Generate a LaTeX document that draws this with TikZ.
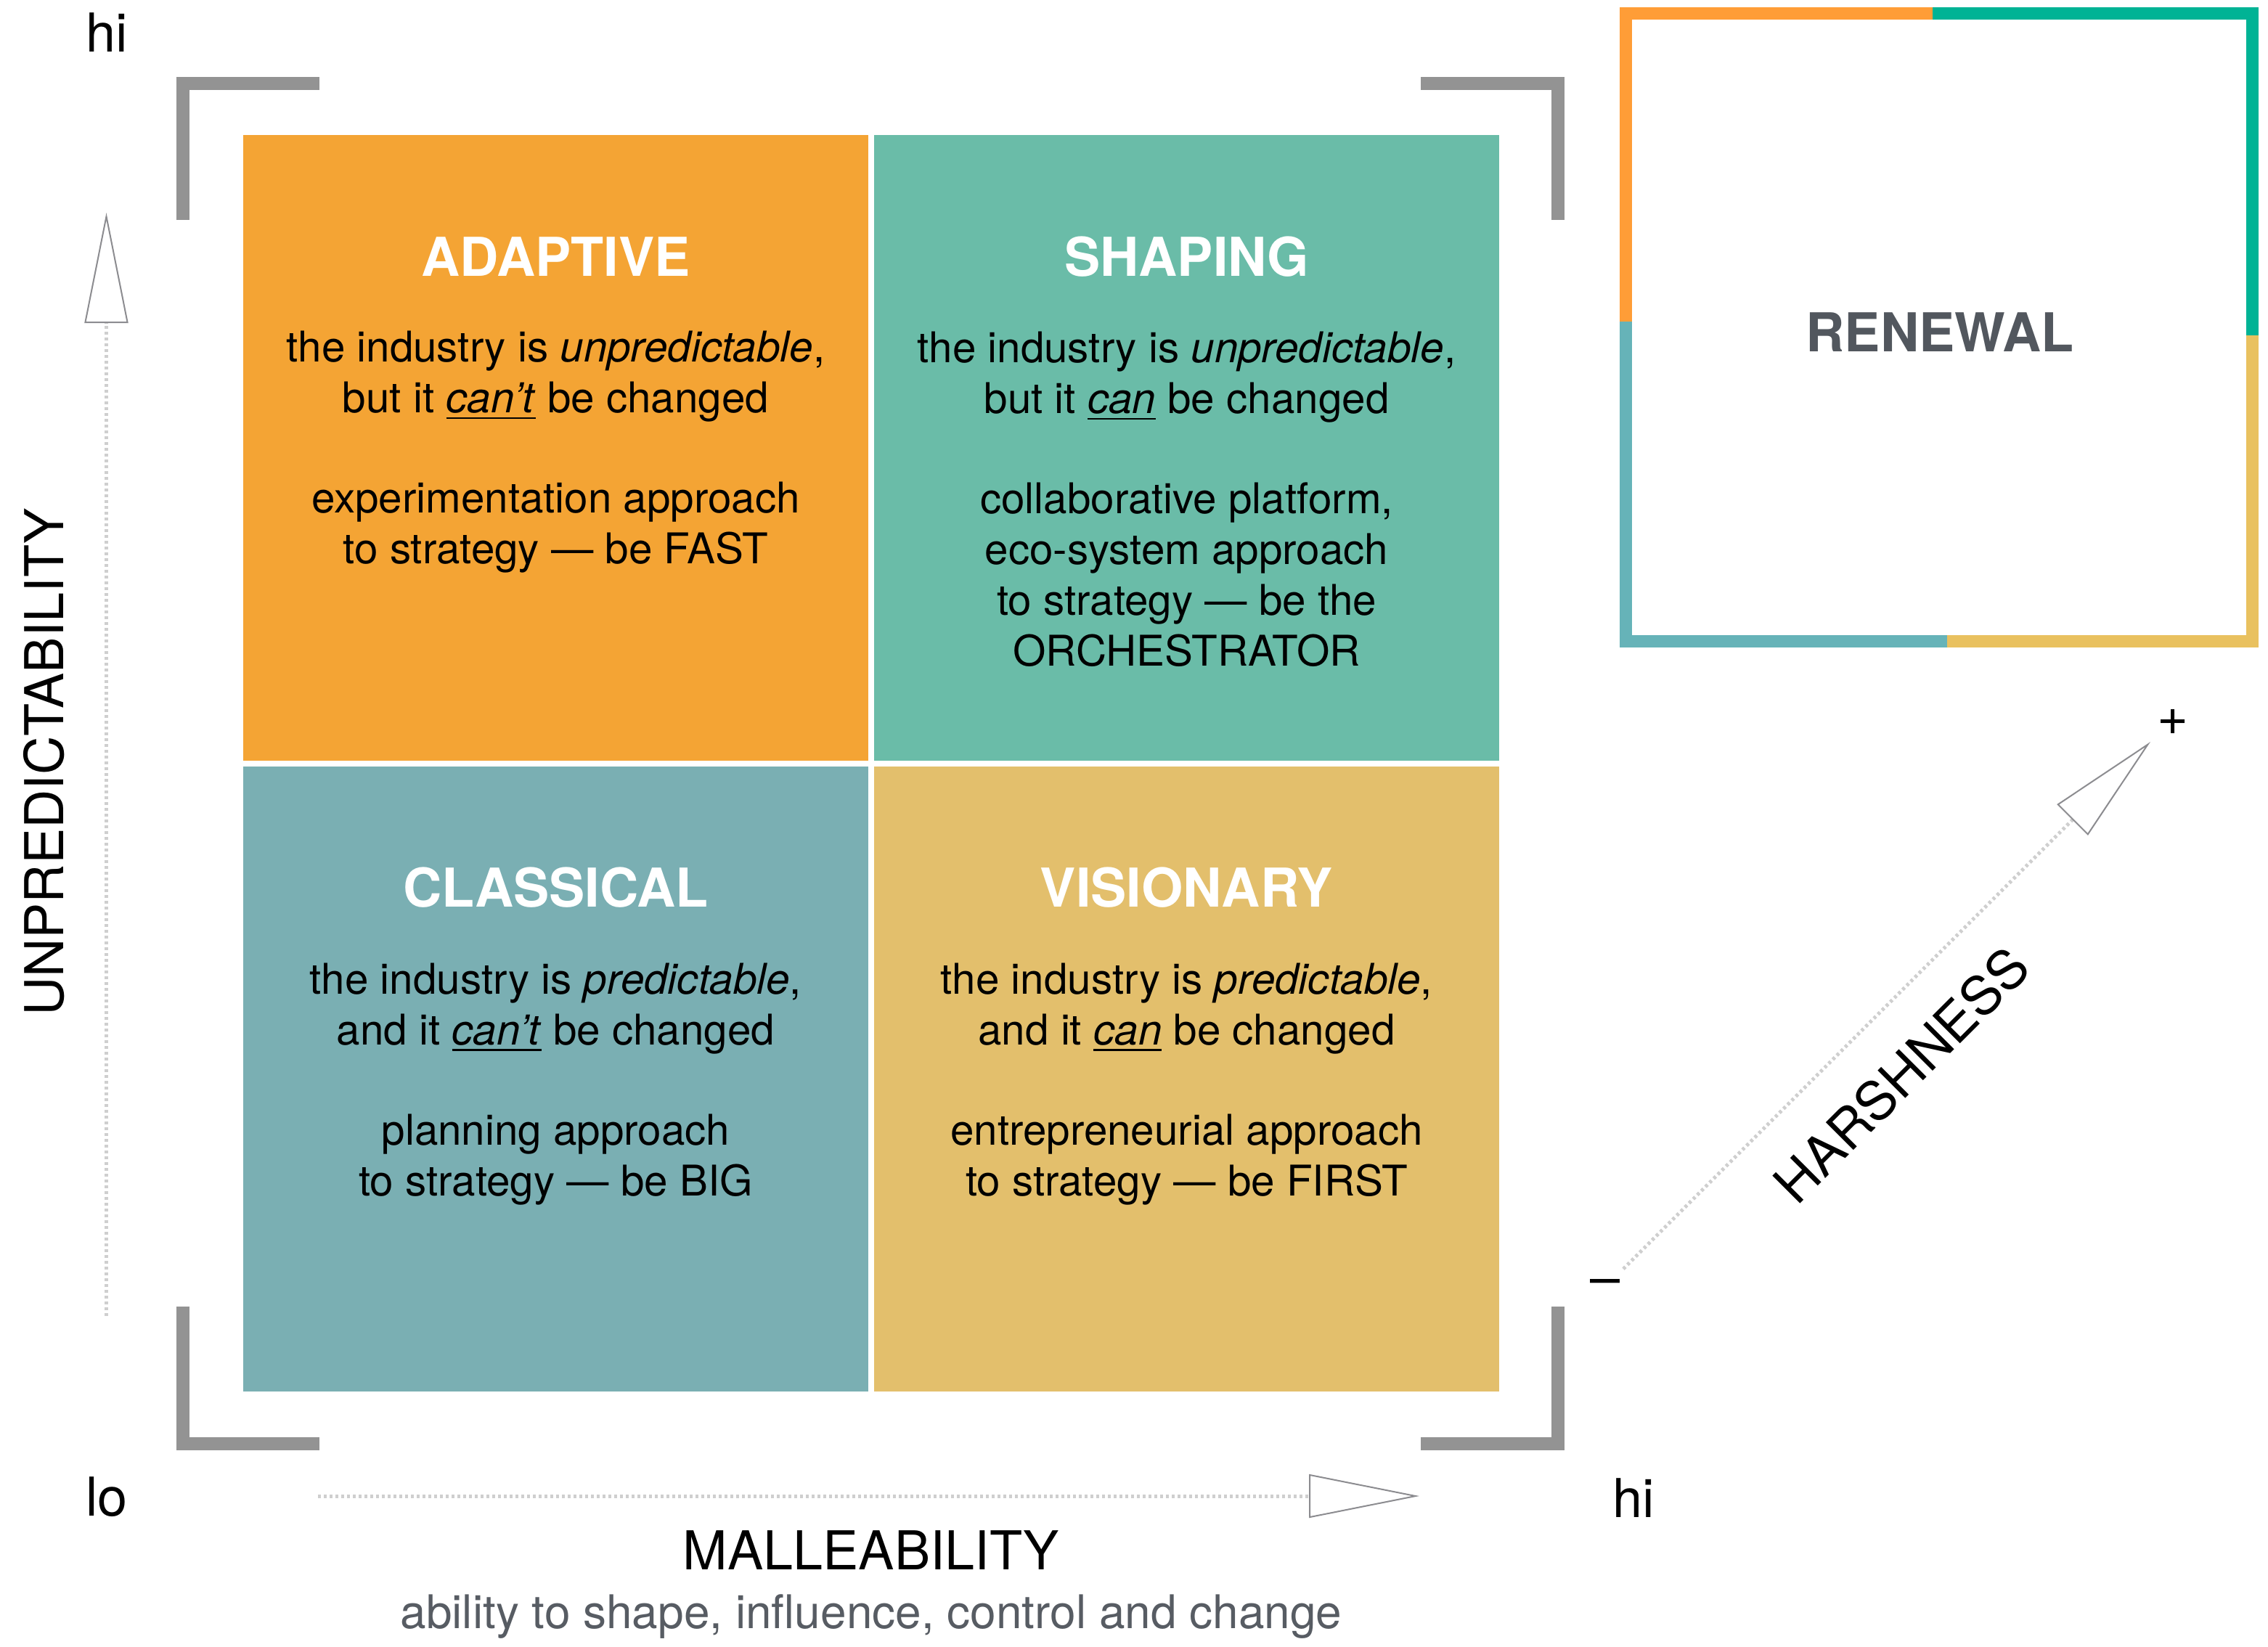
\documentclass[tikz,border=0pt]{standalone}
\usepackage{fontspec}
\setmainfont{TeX Gyre Heros}
\usetikzlibrary{positioning}
\usetikzlibrary{arrows.meta}
\definecolor{qorange}{HTML}{F4A434}
\definecolor{qgreen}{HTML}{6ABCA8}
\definecolor{qblue}{HTML}{7AAFB3}
\definecolor{qyellow}{HTML}{E3BF6C}
\definecolor{brkgray}{HTML}{939393}
\definecolor{tipgray}{HTML}{8C8C90}
\definecolor{dotgray}{HTML}{CFCFCF}
\definecolor{subgray}{HTML}{575C63}
\definecolor{rengray}{HTML}{52575E}
\definecolor{rorange}{HTML}{FF9D37}
\definecolor{rgreen}{HTML}{00B395}
\definecolor{rblue}{HTML}{66B3B8}
\definecolor{ryellow}{HTML}{E9C15F}
\newcommand{\ulin}[1]{\vtop{\hbox{#1}\kern1.4pt\hrule height0.75pt}}

\begin{document}
\begin{tikzpicture}[x=1cm, y=-1cm]
    \tikzstyle{quad}=[minimum width=8.61cm, minimum height=8.615cm, inner sep=0, outer sep=0]
    \tikzstyle{ttl}=[text=white, inner sep=0, font=\bfseries\fontsize{21}{25}\selectfont]
    \tikzstyle{txt}=[inner sep=0, align=center, font=\fontsize{16.6}{19.9}\selectfont]
    \tikzstyle{lbl}=[inner sep=0, font=\fontsize{21}{25}\selectfont]
    \tikzstyle{brk}=[draw=brkgray, line width=0.18cm]
    \tikzstyle{rim}=[line width=0.17cm]
    \tikzstyle{axis}=[draw=dotgray, line width=0.05cm, dash pattern=on 0.04cm off 0.04cm,
      -{Triangle[length=1.52cm 0, width=0.6cm 0, line width=0.57pt 0, color=tipgray, fill=white]}]
    \useasboundingbox (0,0) rectangle (31.24,22.68);
    \foreach \q/\x/\y/\col/\head in {adaptive/7.655/6.1675/qorange/ADAPTIVE,
      shaping/16.345/6.1675/qgreen/SHAPING, classical/7.655/14.8625/qblue/CLASSICAL,
      visionary/16.345/14.8625/qyellow/VISIONARY} {
      \node[quad, fill=\col] (\q) at (\x,\y) {};
      \node[ttl, anchor=base] (t\q) at ([yshift=-1.94cm]\q.north) {\head};
    }
    \node[txt, below=0.75cm of tadaptive] (badaptive) {the industry is \textit{unpredictable},\\
      but it \ulin{\textit{can’t}} be changed\\[19.3pt]
      experimentation approach\\ to strategy — be FAST};
    \node[txt, below=0.75cm of tshaping] (bshaping) {the industry is \textit{unpredictable},\\
      but it \ulin{\textit{can}} be changed\\[19.3pt]
      collaborative platform,\\ eco-system approach\\ to strategy — be the\\ ORCHESTRATOR};
    \node[txt, below=0.75cm of tclassical] (bclassical) {the industry is \textit{predictable},\\
      and it \ulin{\textit{can’t}} be changed\\[19.3pt]
      planning approach\\ to strategy — be BIG};
    \node[txt, below=0.75cm of tvisionary] (bvisionary) {the industry is \textit{predictable},\\
      and it \ulin{\textit{can}} be changed\\[19.3pt]
      entrepreneurial approach\\ to strategy — be FIRST};
    \draw[brk] (2.52,3.03) -- (2.52,1.15) -- (4.40,1.15);
    \draw[brk] (19.57,1.15) -- (21.46,1.15) -- (21.46,3.03);
    \draw[brk] (2.52,18.00) -- (2.52,19.89) -- (4.40,19.89);
    \draw[brk] (19.57,19.89) -- (21.46,19.89) -- (21.46,18.00);
    \coordinate (ulo) at (1.465,18.13);
    \coordinate (uhi) at (1.465,2.93);
    \coordinate (mlo) at (4.38,20.61);
    \coordinate (mhi) at (19.55,20.61);
    \coordinate (hlo) at (22.36,17.48);
    \coordinate (hhi) at (29.62,10.22);
    \draw[axis] (ulo) -- (uhi);
    \draw[axis] (mlo) -- (mhi);
    \draw[axis] (hlo) -- (hhi);
    \node[lbl, anchor=base] (uhilab) at (1.475,0.71) {hi};
    \node[lbl, anchor=base] (lolab) at (1.47,20.88) {lo};
    \node[lbl, anchor=base] (mhilab) at (22.5,20.90) {hi};
    \node[lbl, rotate=90, anchor=base] (unpred) at (0.87,10.50) {UNPREDICTABILITY};
    \node[lbl, anchor=base] (malle) at (12.0,21.62) {MALLEABILITY};
    \node[inner sep=0, text=subgray, font=\fontsize{18.2}{22}\selectfont, anchor=base] (mallesub)
      at (12.0,22.43) {ability to shape, influence, control and change};
    \node[lbl, rotate=45, anchor=base] (harsh) at (26.38,15.0) {HARSHNESS};
    \node[lbl, anchor=base] (hminus) at (22.11,17.85) {–};
    \node[lbl, anchor=base] (hplus) at (29.93,10.12) {+};
    \draw[rim, rorange] (22.395,4.43) -- (22.395,0.185) -- (26.62,0.185);
    \draw[rim, rgreen] (26.62,0.185) -- (31.025,0.185) -- (31.025,4.62);
    \draw[rim, ryellow] (31.025,4.62) -- (31.025,8.835) -- (26.82,8.835);
    \draw[rim, rblue] (26.82,8.835) -- (22.395,8.835) -- (22.395,4.43);
    \node[ttl, text=rengray, anchor=base] (renewal) at (26.72,4.84) {RENEWAL};
\end{tikzpicture}
\end{document}
